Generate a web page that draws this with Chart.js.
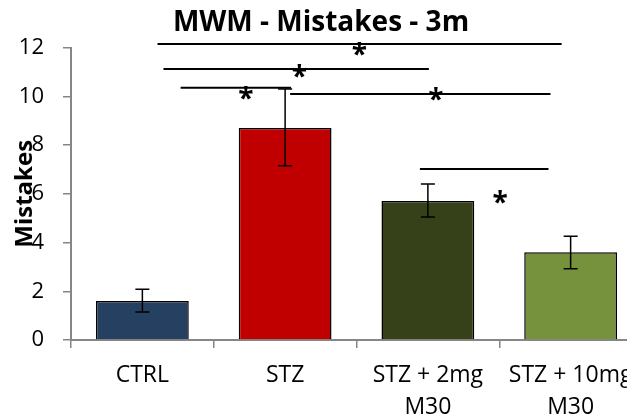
<!DOCTYPE html>
<html>
<head>
<meta charset="utf-8">
<script src="https://cdn.jsdelivr.net/npm/chart.js@4/dist/chart.umd.min.js"></script>
<style>
  body { margin: 0; overflow: hidden; background: #fff; }
  #wrap { width: 660px; height: 418px; }
</style>
</head>
<body>
<div id="wrap"><canvas id="mwm"></canvas></div>
<script>
// groups and mean mistakes
const groups = ["CTRL", "STZ", ["STZ + 2mg", "M30"], ["STZ + 10mg", "M30"]];
const means = [1.6, 8.7, 5.7, 3.6];
const errLow = [1.15, 7.15, 5.05, 2.92];
const errHigh = [2.08, 10.3, 6.4, 4.26];
const barColors = ["#254061", "#C00000", "#374119", "#76923C"];
const yTicks = [0, 2, 4, 6, 8, 10, 12];

// significance lines (x in category index units, y in data units)
const sigFrom = [0.106, 0.148, 0.268, 1.035, 1.944];
const sigTo = [2.937, 2.007, 1.042, 2.859, 2.845];
const sigY = [12.15, 11.12, 10.35, 10.10, 7.02];
const starX = [1.521, 1.099, 0.725, 2.056, 2.507];
const starY = [11.94, 11.04, 10.14, 10.10, 5.85];

const gray = "#868686";

const extras = {
  id: "extras",
  afterDatasetsDraw(chart) {
    const ctx = chart.ctx;
    const x = chart.scales.x, y = chart.scales.y;
    const step = x.getPixelForValue(1) - x.getPixelForValue(0);
    const px = v => x.getPixelForValue(0) + v * step;
    ctx.save();
    // error bars
    ctx.strokeStyle = "#000";
    ctx.lineWidth = 1.5;
    means.forEach((m, i) => {
      const cx = x.getPixelForValue(i);
      const lo = y.getPixelForValue(errLow[i]);
      const hi = y.getPixelForValue(errHigh[i]);
      ctx.beginPath();
      ctx.moveTo(cx, lo); ctx.lineTo(cx, hi);
      ctx.moveTo(cx - 7, lo); ctx.lineTo(cx + 7, lo);
      ctx.moveTo(cx - 7, hi); ctx.lineTo(cx + 7, hi);
      ctx.stroke();
    });
    // lines
    ctx.lineWidth = 2;
    sigY.forEach((v, i) => {
      const yy = y.getPixelForValue(v);
      ctx.beginPath();
      ctx.moveTo(px(sigFrom[i]), yy);
      ctx.lineTo(px(sigTo[i]), yy);
      ctx.stroke();
    });
    // stars
    ctx.fillStyle = "#000";
    ctx.font = "bold 28px 'Open Sans'";
    ctx.textAlign = "center";
    ctx.textBaseline = "alphabetic";
    const m = ctx.measureText("*");
    const mid = (m.actualBoundingBoxAscent - m.actualBoundingBoxDescent) / 2;
    starX.forEach((sx, i) => {
      ctx.fillText("*", px(sx), y.getPixelForValue(starY[i]) + mid);
    });
    ctx.restore();
  }
};

new Chart(document.getElementById("mwm"), {
  type: "bar",
  data: {
    labels: groups,
    datasets: [{
      data: means,
      backgroundColor: barColors,
      borderColor: "#000",
      borderWidth: 1.5,
      barPercentage: 0.65,
      categoryPercentage: 1
    }]
  },
  options: {
    responsive: true,
    maintainAspectRatio: false,
    animation: false,
    layout: { padding: { left: 0, right: 18, top: 0, bottom: 0 } },
    plugins: {
      legend: { display: false },
      tooltip: { enabled: false },
      title: {
        display: true,
        text: "MWM - Mistakes - 3m",
        color: "#000",
        font: { family: "'Open Sans'", size: 28, weight: "bold" },
        padding: { top: 6, bottom: 8 }
      }
    },
    scales: {
      x: {
        afterFit: s => { s.height = 78; },
        grid: { drawOnChartArea: false, color: gray, lineWidth: 1.5, tickLength: 8 },
        border: { color: gray, width: 2 },
        ticks: {
          color: "#000",
          padding: 11,
          maxRotation: 0,
          autoSkip: false,
          font: { family: "'Open Sans'", size: 23, lineHeight: 1.4 }
        }
      },
      y: {
        min: 0,
        max: 12,
        afterBuildTicks: s => { s.ticks = yTicks.map(v => ({ value: v })); },
        afterFit: s => { s.width = 71; },
        grid: { drawOnChartArea: false, color: gray, lineWidth: 1.5, tickLength: 8 },
        border: { color: gray, width: 2 },
        ticks: {
          color: "#000",
          padding: 19,
          font: { family: "'Open Sans'", size: 22 }
        },
        title: {
          display: true,
          text: "Mistakes",
          color: "#000",
          font: { family: "'Open Sans'", size: 24, weight: "bold" },
          padding: { top: 11, bottom: 0 }
        }
      }
    }
  },
  plugins: [extras]
});
</script>
</body>
</html>
